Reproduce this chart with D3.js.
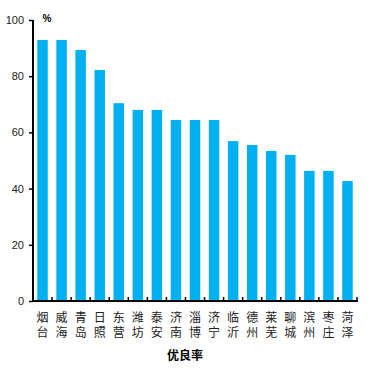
<!DOCTYPE html>
<html>
<head>
<meta charset="utf-8">
<script src="https://cdn.jsdelivr.net/npm/d3@7"></script>
<style>
  body { margin: 0; background: #fff; }
  svg { display: block; }
</style>
</head>
<body>
<script>
// data
var cities = ["烟台", "威海", "青岛", "日照", "东营", "潍坊", "泰安", "济南", "淄博",
              "济宁", "临沂", "德州", "莱芜", "聊城", "滨州", "枣庄", "菏泽"];
var rates = [92.9, 92.9, 89.3, 82.2, 70.4, 68.0, 68.0, 64.4, 64.4,
             64.4, 56.9, 55.5, 53.4, 52.0, 46.3, 46.3, 42.7];
var yTicks = [0, 20, 40, 60, 80, 100];
var xTitle = "优良率";
var unit = "%";

// Settings (note: "top" is a reserved window prop, so pad names instead)
var w = 370, h = 370;
var padL = 33, padR = 357, padT = 20, padB = 301;

var svg = d3.select("body").append("svg")
    .attr("width", w)
    .attr("height", h);

var xScale = d3.scaleBand()
    .domain(cities)
    .range([padL, padR])
    .paddingInner(0.45)
    .paddingOuter(0.225);

var yScale = d3.scaleLinear()
    .domain([0, 100])
    .range([padB, padT]);

// bars
svg.selectAll("rect.bar")
    .data(rates)
    .enter()
    .append("rect")
    .attr("class", "bar")
    .attr("x", function(d, i) { return xScale(cities[i]); })
    .attr("y", function(d) { return yScale(d); })
    .attr("width", xScale.bandwidth())
    .attr("height", function(d) { return yScale(0) - yScale(d); })
    .attr("fill", "#00b0f0");

// y axis
var yAxis = d3.axisLeft(yScale)
    .tickValues(yTicks)
    .tickSize(4)
    .tickPadding(5);

var gy = svg.append("g")
    .attr("transform", "translate(" + padL + ",0)")
    .call(yAxis);
gy.select(".domain").attr("stroke", "#000").attr("stroke-width", 2)
    .attr("d", "M0," + padT + "V" + (padB + 1));
gy.selectAll(".tick line").attr("stroke", "#000").attr("stroke-width", 1.5);
gy.selectAll(".tick text")
    .attr("fill", "#222")
    .style("font-family", "Liberation Sans, Arial, sans-serif")
    .style("font-size", "11px");

// x axis line with inward ticks at category boundaries
var step = xScale.step();
svg.append("line")
    .attr("x1", padL - 1).attr("x2", padR + 1)
    .attr("y1", padB).attr("y2", padB)
    .attr("stroke", "#000").attr("stroke-width", 2);

svg.selectAll("line.xtick")
    .data(cities)
    .enter()
    .append("line")
    .attr("class", "xtick")
    .attr("x1", function(d) { return xScale(d) + xScale.bandwidth() + step * 0.225; })
    .attr("x2", function(d) { return xScale(d) + xScale.bandwidth() + step * 0.225; })
    .attr("y1", padB)
    .attr("y2", padB - 4)
    .attr("stroke", "#000")
    .attr("stroke-width", 1.5);

// category labels, two characters stacked (one text per char row)
[0, 1].forEach(function(row) {
    svg.selectAll("text.cat" + row)
        .data(cities)
        .enter()
        .append("text")
        .attr("class", "cat" + row)
        .attr("x", function(d) { return xScale(d) + xScale.bandwidth() / 2; })
        .attr("y", 322 + row * 15)
        .attr("text-anchor", "middle")
        .style("font-family", "Noto Sans CJK SC, sans-serif")
        .style("font-size", "12px")
        .attr("fill", "#222")
        .text(function(d) { return d[row]; });
});

// axis title
svg.append("text")
    .attr("x", 185)
    .attr("y", 360)
    .attr("text-anchor", "middle")
    .style("font-family", "Noto Sans CJK SC, sans-serif")
    .style("font-size", "12px")
    .style("font-weight", "bold")
    .text(xTitle);

// unit
svg.append("text")
    .attr("x", 47)
    .attr("y", 22)
    .attr("text-anchor", "middle")
    .style("font-family", "Liberation Sans, Arial, sans-serif")
    .style("font-size", "10px")
    .style("font-weight", "bold")
    .text(unit);
</script>
</body>
</html>
